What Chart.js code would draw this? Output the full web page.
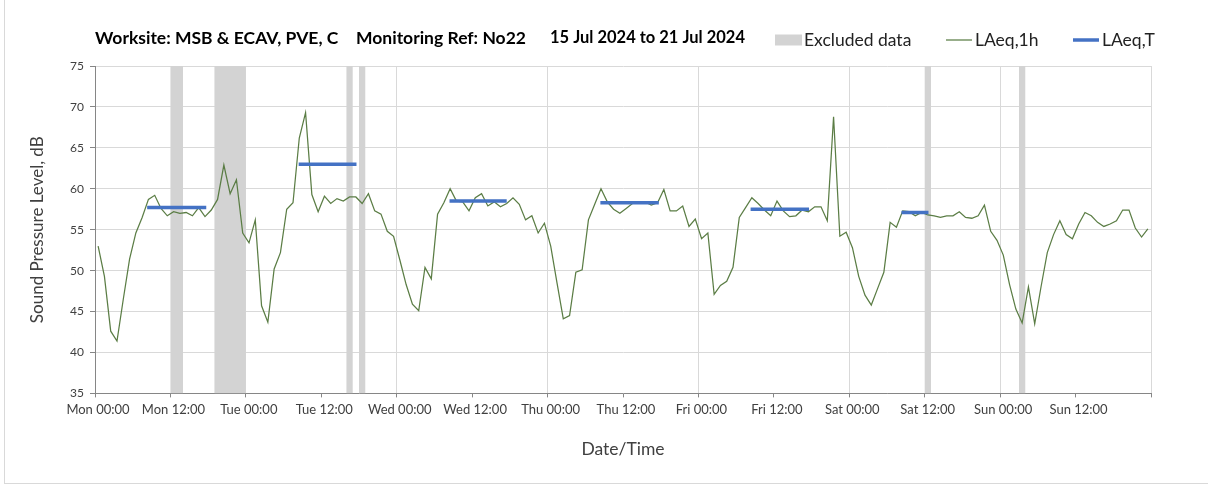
<!DOCTYPE html>
<html>
<head>
<meta charset="utf-8">
<script src="https://cdn.jsdelivr.net/npm/chart.js@4.4.1/dist/chart.umd.min.js"></script>
<style>
  html, body { margin:0; padding:0; background:#fff; }
  #wrap { position:relative; width:1208px; height:486px; overflow:hidden; }
  #frame { position:absolute; left:4px; top:-2px; width:1230px; height:486px; border:1px solid #d9d9d9; box-sizing:border-box; }
  canvas { position:absolute; left:0; top:0; }
</style>
</head>
<body>
<div id="wrap">
  <div id="frame"></div>
  <canvas id="chart" width="1208" height="486"></canvas>
</div>
<script>
// ── data ─────────────────────────────────────────────
// hourly LAeq,1h from Mon 15 Jul 00:00 to Sun 21 Jul 23:00 (168 values)
const LAEQ_1H = [
  53.0, 49.3, 42.6, 41.4, 46.5, 51.4, 54.6, 56.5, 58.7, 59.2, 57.6, 56.7,
  57.2, 57.0, 57.1, 56.7, 57.7, 56.6, 57.4, 58.7, 62.9, 59.4, 61.1, 54.6,
  53.4, 56.2, 45.7, 43.7, 50.2, 52.2, 57.5, 58.3, 66.2, 69.3, 59.3, 57.2,
  59.1, 58.2, 58.8, 58.5, 59.0, 59.0, 58.2, 59.4, 57.3, 56.9, 54.8, 54.2,
  51.3, 48.3, 45.9, 45.1, 50.4, 49.0, 56.9, 58.3, 60.0, 58.5, 58.4, 57.3,
  58.9, 59.4, 57.9, 58.4, 57.8, 58.2, 58.9, 58.1, 56.2, 56.7, 54.6, 55.8,
  53.0, 48.5, 44.1, 44.5, 49.8, 50.1, 56.2, 58.1, 60.0, 58.4, 57.5, 57.0,
  57.6, 58.2, 58.4, 58.4, 58.0, 58.3, 59.9, 57.3, 57.3, 57.9, 55.4, 56.3,
  53.9, 54.6, 47.1, 48.2, 48.7, 50.4, 56.5, 57.7, 58.9, 58.2, 57.4, 56.7,
  58.5, 57.3, 56.6, 56.7, 57.4, 57.2, 57.8, 57.8, 56.1, 68.8, 54.2, 54.7,
  52.8, 49.3, 47.0, 45.8, 47.8, 49.8, 55.9, 55.3, 57.3, 57.2, 56.7, 57.1,
  56.8, 56.7, 56.5, 56.7, 56.7, 57.2, 56.5, 56.4, 56.7, 58.0, 54.8, 53.7,
  51.9, 48.3, 45.3, 43.6, 48.0, 43.5, 48.0, 52.2, 54.4, 56.1, 54.4, 53.9,
  55.7, 57.1, 56.7, 55.9, 55.4, 55.7, 56.1, 57.4, 57.4, 55.2, 54.1, 55.1
];

// LAeq,T daytime periods (hours from Mon 00:00)
const PERIOD_START = [8.3, 32.4, 56.4, 80.4, 104.3, 128.3];
const PERIOD_END   = [17.7, 41.6, 65.5, 89.7, 113.6, 132.6];
const LAEQ_T       = [57.7, 63.0, 58.5, 58.3, 57.5, 57.1];

// excluded data windows (hours from Mon 00:00)
const EXCL_START = [12, 19, 40, 42, 132, 147];
const EXCL_END   = [14, 24, 41, 43, 133, 148];

const DAYS = ['Mon', 'Tue', 'Wed', 'Thu', 'Fri', 'Sat', 'Sun'];
const Y_MIN = 35, Y_MAX = 75, Y_STEP = 5;
const HOURS = 168, X_STEP = 12;

const TITLE_PARTS = ['Worksite: MSB & ECAV, PVE, C', 'Monitoring Ref: No22', '15 Jul 2024 to 21 Jul 2024'];

// ── datasets ─────────────────────────────────────────
const hourlyPts = LAEQ_1H.map((v, i) => ({ x: i + 0.5, y: v }));

const periodPts = [];
LAEQ_T.forEach((v, i) => {
  periodPts.push({ x: PERIOD_START[i], y: v }, { x: PERIOD_END[i], y: v }, { x: PERIOD_END[i] + 0.5, y: null });
});

const exclPts = [{ x: 0, y: Y_MIN }];
EXCL_START.forEach((s, i) => {
  exclPts.push({ x: s, y: Y_MIN }, { x: s, y: Y_MAX }, { x: EXCL_END[i], y: Y_MAX }, { x: EXCL_END[i], y: Y_MIN });
});
exclPts.push({ x: HOURS, y: Y_MIN });

const FONT = 'Lato';
const AXIS_C = '#868686';
const GRID_C = '#d9d9d9';

// title + legend on one row, like the original spreadsheet chart
const header = {
  id: 'header',
  afterDraw(chart) {
    const c = chart.ctx;
    c.save();
    c.textBaseline = 'middle';
    c.fillStyle = '#000';
    const tx = [95, 356, 550];
    const ts = [17.5, 17.5, 16.5];
    TITLE_PARTS.forEach((t, i) => {
      c.font = `bold ${ts[i]}px ${FONT}`;
      c.fillText(t, tx[i], 38);
    });

    c.font = `17.5px ${FONT}`;
    const ds = chart.data.datasets;
    const items = [ds[2], ds[1], ds[0]];
    const lx = [775, 946, 1073];
    items.forEach((d, i) => {
      const x = lx[i], y = 40;
      if (d.fill) {
        c.fillStyle = d.backgroundColor;
        c.fillRect(x, y - 5.5, 27, 11);
      } else {
        c.strokeStyle = d.borderColor;
        c.lineWidth = d.borderWidth;
        c.beginPath(); c.moveTo(x, y); c.lineTo(x + 26, y); c.stroke();
      }
      c.fillStyle = '#222';
      c.fillText(d.label, x + 29, y);
    });
    c.restore();
  }
};

new Chart(document.getElementById('chart'), {
  type: 'line',
  data: {
    datasets: [
      { label: 'LAeq,T', data: periodPts, borderColor: '#4472c4', borderWidth: 3.5,
        borderCapStyle: 'butt', pointRadius: 0, spanGaps: false, fill: false, order: 0 },
      { label: 'LAeq,1h', data: hourlyPts, borderColor: '#5b7d45', borderWidth: 1.25,
        pointRadius: 0, tension: 0, fill: false, order: 1 },
      { label: 'Excluded data', data: exclPts, borderColor: 'rgba(0,0,0,0)', borderWidth: 0,
        backgroundColor: '#d3d3d3', pointRadius: 0, fill: 'start', order: 2 }
    ]
  },
  options: {
    responsive: false,
    animation: false,
    events: [],
    layout: { padding: { top: 66, right: 57, bottom: 22, left: 0 } },
    plugins: { legend: { display: false }, tooltip: { enabled: false } },
    scales: {
      x: {
        type: 'linear', min: 0, max: HOURS,
        afterBuildTicks: s => { s.ticks = []; for (let h = 0; h <= HOURS; h += X_STEP) s.ticks.push({ value: h }); },
        ticks: {
          autoSkip: false, maxRotation: 0, padding: 5, labelOffset: 3, color: '#404040',
          font: { family: FONT, size: 13 },
          callback: v => v >= HOURS ? '' : `${DAYS[Math.floor(v / 24)]} ${String(v % 24).padStart(2, '0')}:00`
        },
        grid: {
          color: ctx => (ctx.tick && ctx.tick.value % 24 === 0) ? GRID_C : 'rgba(0,0,0,0)',
          tickColor: AXIS_C, tickLength: 4
        },
        border: { color: AXIS_C },
        title: { display: true, text: 'Date/Time', color: '#404040',
          font: { family: FONT, size: 17.5 }, padding: { top: 16, bottom: 4 } }
      },
      y: {
        min: Y_MIN, max: Y_MAX,
        afterFit: s => { s.width = 95; },
        ticks: { stepSize: Y_STEP, padding: 6, color: '#404040', font: { family: FONT, size: 12 } },
        grid: { color: GRID_C, tickColor: AXIS_C, tickLength: 5 },
        border: { color: AXIS_C },
        title: { display: true, text: 'Sound Pressure Level, dB', color: '#404040',
          font: { family: FONT, size: 17 }, padding: { top: 27, bottom: 0 } }
      }
    }
  },
  plugins: [header]
});
</script>
</body>
</html>
